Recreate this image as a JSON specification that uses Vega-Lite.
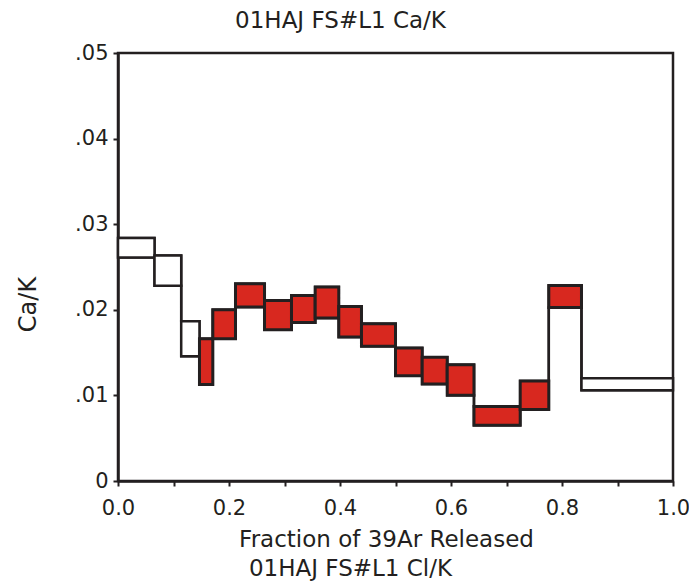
{
  "$schema": "https://vega.github.io/schema/vega-lite/v6.json",
  "width": 555,
  "height": 428,
  "autosize": {"type": "none"},
  "padding": {"left": 118, "top": 53, "right": 16, "bottom": 102},
  "background": "white",
  "config": {
    "view": {"stroke": "#231f20", "strokeWidth": 2.5},
    "font": "DejaVu Sans",
    "axis": {
      "grid": false,
      "domainColor": "#231f20",
      "domainWidth": 2.5,
      "tickColor": "#231f20",
      "tickWidth": 2,
      "tickSize": 5,
      "labelColor": "#231f20",
      "labelFont": "DejaVu Sans",
      "labelFontSize": 21,
      "titleColor": "#231f20",
      "titleFont": "DejaVu Sans",
      "titleFontWeight": "normal",
      "titleFontSize": 23
    }
  },
  "data": {
    "values": [
      {"step": 1, "x0": 0.0, "x1": 0.0658, "lo": 0.0261, "hi": 0.0284, "type": "open"},
      {"step": 2, "x0": 0.0658, "x1": 0.1139, "lo": 0.0228, "hi": 0.02635, "type": "open"},
      {"step": 3, "x0": 0.1139, "x1": 0.1468, "lo": 0.01456, "hi": 0.01865, "type": "open"},
      {"step": 4, "x0": 0.1468, "x1": 0.1708, "lo": 0.01126, "hi": 0.01663, "type": "filled"},
      {"step": 5, "x0": 0.1708, "x1": 0.2117, "lo": 0.01663, "hi": 0.02001, "type": "filled"},
      {"step": 6, "x0": 0.2117, "x1": 0.264, "lo": 0.02033, "hi": 0.02305, "type": "filled"},
      {"step": 7, "x0": 0.264, "x1": 0.3126, "lo": 0.01768, "hi": 0.0211, "type": "filled"},
      {"step": 8, "x0": 0.3126, "x1": 0.3553, "lo": 0.01853, "hi": 0.02168, "type": "filled"},
      {"step": 9, "x0": 0.3553, "x1": 0.3978, "lo": 0.01904, "hi": 0.02266, "type": "filled"},
      {"step": 10, "x0": 0.3978, "x1": 0.4387, "lo": 0.01683, "hi": 0.0204, "type": "filled"},
      {"step": 11, "x0": 0.4387, "x1": 0.5, "lo": 0.01573, "hi": 0.01838, "type": "filled"},
      {"step": 12, "x0": 0.5, "x1": 0.5481, "lo": 0.01231, "hi": 0.01554, "type": "filled"},
      {"step": 13, "x0": 0.5481, "x1": 0.5932, "lo": 0.01134, "hi": 0.01445, "type": "filled"},
      {"step": 14, "x0": 0.5932, "x1": 0.6414, "lo": 0.01001, "hi": 0.01359, "type": "filled"},
      {"step": 15, "x0": 0.6414, "x1": 0.7247, "lo": 0.00651, "hi": 0.00869, "type": "filled"},
      {"step": 16, "x0": 0.7247, "x1": 0.7762, "lo": 0.00834, "hi": 0.01169, "type": "filled"},
      {"step": 17, "x0": 0.7762, "x1": 0.8351, "lo": 0.02028, "hi": 0.02285, "type": "filled"},
      {"step": 18, "x0": 0.8351, "x1": 1.0, "lo": 0.0106, "hi": 0.012, "type": "open"}
    ]
  },
  "layer": [
    {
      "transform": [
        {"fold": ["x0", "x1"], "as": ["edge", "xv"]},
        {"fold": ["lo", "hi"], "as": ["env", "yv"]}
      ],
      "mark": {"type": "line", "color": "#231f20", "strokeWidth": 2.5, "interpolate": "linear"},
      "encoding": {
        "x": {
          "field": "xv", "type": "quantitative",
          "scale": {"domain": [0, 1], "nice": false, "zero": false},
          "axis": {
            "orient": "bottom", "domain": false, "ticks": false, "labels": false,
            "title": "01HAJ FS#L1 Cl/K",
            "titleX": 232, "titleY": 94, "titleAlign": "center", "titleBaseline": "alphabetic"
          }
        },
        "y": {
          "field": "yv", "type": "quantitative",
          "scale": {"domain": [0, 0.05], "nice": false, "zero": false},
          "title": "Ca/K"
        },
        "detail": {"field": "env", "type": "nominal"},
        "order": [
          {"field": "step", "type": "quantitative"},
          {"field": "edge", "type": "nominal"}
        ]
      }
    },
    {
      "transform": [{"filter": "datum.type == 'open'"}],
      "mark": {"type": "rect", "fill": "white", "stroke": "#231f20", "strokeWidth": 2.5},
      "encoding": {
        "x": {
          "field": "x0", "type": "quantitative",
          "scale": {"domain": [0, 1], "nice": false, "zero": false},
          "axis": {
            "orient": "bottom",
            "values": [0, 0.1, 0.2, 0.3, 0.4, 0.5, 0.6, 0.7, 0.8, 0.9, 1.0],
            "labelExpr": "round(datum.value * 10) % 2 == 0 ? format(datum.value, '.1f') : ''",
            "labelPadding": 11,
            "labelFlush": false,
            "labelOverlap": false,
            "title": "Fraction of 39Ar Released",
            "titleX": 268, "titleY": 65, "titleAlign": "center", "titleBaseline": "alphabetic"
          }
        },
        "x2": {"field": "x1"},
        "y": {
          "field": "lo", "type": "quantitative",
          "scale": {"domain": [0, 0.05], "nice": false, "zero": false},
          "title": "Ca/K",
          "axis": {
            "values": [0, 0.01, 0.02, 0.03, 0.04, 0.05],
            "labelExpr": "datum.value == 0 ? '0' : replace(format(datum.value, '.2f'), '0.', '.')",
            "labelPadding": 5,
            "labelFlush": false,
            "labelOverlap": false,
            "titleFontSize": 24,
            "titleX": -90, "titleY": 251, "titleAlign": "center", "titleBaseline": "middle"
          }
        },
        "y2": {"field": "hi"}
      }
    },
    {
      "transform": [{"filter": "datum.type == 'filled'"}],
      "mark": {"type": "rect", "fill": "#d8281f", "stroke": "#231f20", "strokeWidth": 3},
      "encoding": {
        "x": {
          "field": "x0", "type": "quantitative",
          "scale": {"domain": [0, 1], "nice": false, "zero": false},
          "axis": {
            "orient": "top", "domain": false, "ticks": false, "labels": false,
            "title": "01HAJ FS#L1 Ca/K",
            "titleX": 222, "titleY": -26, "titleAlign": "center", "titleBaseline": "alphabetic"
          }
        },
        "x2": {"field": "x1"},
        "y": {
          "field": "lo", "type": "quantitative",
          "scale": {"domain": [0, 0.05], "nice": false, "zero": false},
          "title": "Ca/K"
        },
        "y2": {"field": "hi"}
      }
    }
  ],
  "resolve": {"axis": {"x": "independent"}}
}
